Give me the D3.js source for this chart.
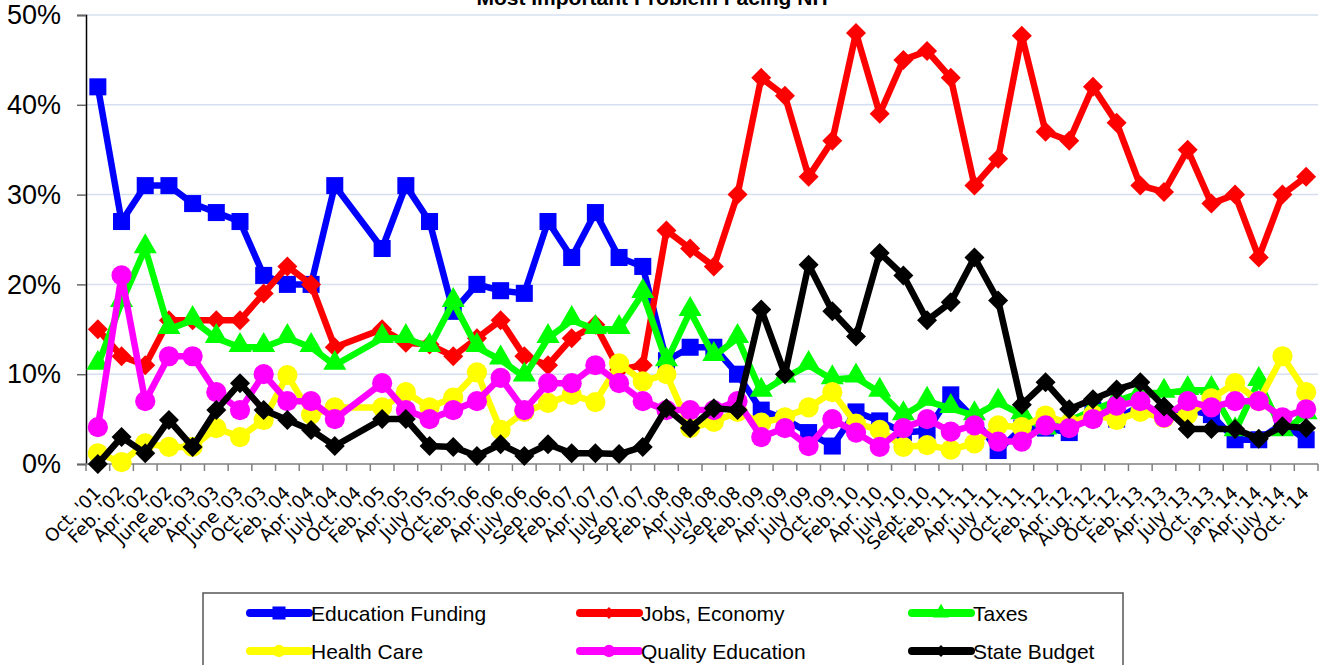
<!DOCTYPE html>
<html>
<head>
<meta charset="utf-8">
<script src="https://cdn.jsdelivr.net/npm/d3@7"></script>
<style>
  body { margin: 0; background: #fff; }
  text { font-family: "Liberation Sans", Arial, sans-serif; }
</style>
</head>
<body>
<svg id="svg" width="1323" height="665"></svg>
<script>
// DATA
var labels = ["Oct. '01","Feb. '02","Apr. '02","June '02","Feb. '03","Apr. '03","June '03","Oct. '03",
  "Feb. '04","Apr. '04","July '04","Oct. '04","Feb. '05","Apr. '05","July '05","Oct. '05",
  "Feb. '06","Apr. '06","July '06","Sep. '06","Feb. '07","Apr. '07","July '07","Sep. '07",
  "Feb. '08","Apr '08","July '08","Sep. '08","Feb. '09","Apr. '09","July '09","Oct. '09",
  "Feb. '10","Apr. '10","July '10","Sept. '10","Feb. '11","Apr. '11","July '11","Oct. '11",
  "Feb. '12","Apr. '12","Aug. '12","Oct. '12","Feb. '13","Apr. '13","July '13","Oct. '13",
  "Jan. '14","Apr. '14","July '14","Oct. '14"];

var educationFunding = [42,27,31,31,29,28,27,21,20,20,31,null,24,31,27,17,20,19.3,19,27,23,28,23,22,
  11.5,13,13,10,6,5,3.5,2,5.8,4.8,3.5,3.7,7.7,5,1.5,4,4,3.5,6,5,6.5,5.5,6,5.5,2.7,2.7,4.5,2.7];
var jobsEconomy = [15,12,11,16,16,16,16,19,22,20,13,null,15,13.5,13.3,12,14,16,12,11,14,15.5,10.5,11,
  26,24,22,30,43,41,32,36,48,39,45,46,43,31,34,47.7,37,36,42,38,31,30.3,35,29,30,23,30,32];
var taxes = [11,18,24,15,16,14,13,13,14,13,11,null,14,14,13,18,13,11.6,9.7,14,16,15,15,19,
  11.4,17,12,14,8,9.6,11,9.4,9.6,8,5.4,7,6.2,5.4,6.8,5.5,3.8,4.8,6,7,7.9,7.9,8.2,8.2,3.6,9.2,3.6,5.5];
var healthCare = [1.2,0.2,2.3,1.9,1.9,4,3,4.9,9.9,5.5,6.3,null,6.3,8,6.3,7.4,10.2,3.8,5.8,6.8,7.7,6.9,11.2,9.2,
  10,4,4.7,5.8,4.6,5.2,6.3,8,4.5,3.8,1.9,2.1,1.6,2.3,4.3,4.1,5.4,4.5,5.5,4.9,5.8,5.1,5.5,7.3,9,7,12,8];
var qualityEducation = [4.1,21,7,12,12,8,6,10,7,7,5,null,9,6,5,6,7,9.6,6,9,9,11,9,7,
  6,6,6,7,3,4,2,5,3.5,1.9,4,5,3.6,4.3,2.5,2.5,4.3,4,5,6.5,7,5.2,7,6.3,7,7,5.2,6.1];
var stateBudget = [0,3,1.2,4.9,1.9,6,9,6,4.9,3.8,2,null,5,5,2,1.9,0.9,2.2,0.9,2.2,1.2,1.2,1.1,1.9,
  6.2,4,6.2,6,17.2,10,22.2,17,14.2,23.5,21,16,18,23,18.2,6.6,9.1,6.1,7.2,8.3,9.1,6.4,3.9,3.9,3.9,2.8,4.2,4];

var yTicks = [0, 10, 20, 30, 40, 50];

var series = [
  { name: "Education Funding", values: educationFunding, color: "#0000ff", shape: "square" },
  { name: "Jobs, Economy", values: jobsEconomy, color: "#ff0000", shape: "diamond" },
  { name: "Taxes", values: taxes, color: "#00ff00", shape: "triangle" },
  { name: "Health Care", values: healthCare, color: "#ffff00", shape: "circle" },
  { name: "Quality Education", values: qualityEducation, color: "#ff00ff", shape: "circle" },
  { name: "State Budget", values: stateBudget, color: "#000000", shape: "diamond" }
];

// SETUP
var svg = d3.select("#svg"),
  margin = { top: 15, right: 5, bottom: 201, left: 86 },
  width = 1232,
  height = 449;

var x = d3.scaleBand().domain(labels).range([0, width]).padding(0),
  y = d3.scaleLinear().domain([0, 50]).range([height, 0]);

var g = svg.append("g")
  .attr("transform", "translate(" + margin.left + "," + margin.top + ")");

// gridlines
g.append("g")
  .selectAll("line")
  .data(yTicks.slice(1))
  .enter().append("line")
  .attr("x1", 0).attr("x2", width)
  .attr("y1", function (d) { return y(d); })
  .attr("y2", function (d) { return y(d); })
  .attr("stroke", "#d6e0f0")
  .attr("stroke-width", 1.5);

// y axis
var yAxis = g.append("g")
  .call(d3.axisLeft(y).tickValues(yTicks).tickSize(9).tickPadding(16)
    .tickFormat(function (d) { return d + "%"; }));
yAxis.select(".domain").attr("stroke", "#000").attr("stroke-width", 1.5);
yAxis.selectAll(".tick line").attr("stroke", "#666").attr("stroke-width", 1.5);
yAxis.selectAll("text")
  .attr("font-size", 27)
  .attr("fill", "#000")
  .style("font-family", "'Liberation Sans', Arial, sans-serif");

// x axis (ticks on category boundaries)
var xg = g.append("g").attr("transform", "translate(0," + height + ")");
xg.append("line")
  .attr("x1", 0).attr("x2", width)
  .attr("stroke", "#808080").attr("stroke-width", 1.5);
xg.selectAll(".xt")
  .data(labels.concat(["end"]))
  .enter().append("line")
  .attr("class", "xt")
  .attr("x1", function (d, i) { return i * x.bandwidth(); })
  .attr("x2", function (d, i) { return i * x.bandwidth(); })
  .attr("y1", 0).attr("y2", 7)
  .attr("stroke", "#808080").attr("stroke-width", 1.5);
xg.selectAll(".xl")
  .data(labels)
  .enter().append("text")
  .attr("class", "xl")
  .attr("text-anchor", "end")
  .attr("transform", function (d) {
    return "translate(" + (x(d) + x.bandwidth() / 2 + 4) + ",30) rotate(-45)";
  })
  .attr("font-size", 18)
  .style("font-family", "'DejaVu Sans', sans-serif")
  .text(function (d) { return d; });

// title (cut by the top edge, as in the source)
svg.append("text")
  .attr("x", 652)
  .attr("y", 5)
  .attr("text-anchor", "middle")
  .attr("font-size", 21)
  .attr("font-weight", "bold")
  .text("Most Important Problem Facing NH");

function marker(shape) {
  if (shape == "square") return d3.symbol().type(d3.symbolSquare).size(290)();
  if (shape == "diamond") return d3.symbol().type(d3.symbolSquare).size(200)();
  if (shape == "triangle") return d3.symbol().type(d3.symbolTriangle).size(230)();
  return d3.symbol().type(d3.symbolCircle).size(320)();
}

var line = d3.line()
  .x(function (d) { return x(d.label) + x.bandwidth() / 2; })
  .y(function (d) { return y(d.value); });

series.forEach(function (s) {
  var pts = labels.map(function (l, i) { return { label: l, value: s.values[i] }; })
    .filter(function (d) { return d.value != null; });

  g.append("path")
    .datum(pts)
    .attr("fill", "none")
    .attr("stroke", s.color)
    .attr("stroke-width", 6.5)
    .attr("stroke-linejoin", "round")
    .attr("d", line);

  g.selectAll(null)
    .data(pts)
    .enter().append("path")
    .attr("d", marker(s.shape))
    .attr("fill", s.color)
    .attr("transform", function (d) {
      var t = "translate(" + (x(d.label) + x.bandwidth() / 2) + "," + y(d.value) + ")";
      if (s.shape == "diamond") t += " rotate(45)";
      if (s.shape == "triangle") t += " translate(0,-2)";
      return t;
    });
});

// legend
var legend = svg.append("g").attr("transform", "translate(203,593)");
legend.append("rect")
  .attr("width", 920).attr("height", 90)
  .attr("fill", "#fff")
  .attr("stroke", "#555").attr("stroke-width", 1.5);

var cols = [47, 377, 709], rows = [20, 58];
var item = legend.selectAll(".item")
  .data(series)
  .enter().append("g")
  .attr("class", "item")
  .attr("transform", function (d, i) { return "translate(" + cols[i % 3] + "," + rows[Math.floor(i / 3)] + ")"; });

item.append("line")
  .attr("x1", 0).attr("x2", 59)
  .attr("stroke", function (d) { return d.color; })
  .attr("stroke-width", 8)
  .attr("stroke-linecap", "round");
item.append("path")
  .attr("d", function (d) {
    if (d.shape == "square") return d3.symbol().type(d3.symbolSquare).size(170)();
    if (d.shape == "triangle") return d3.symbol().type(d3.symbolTriangle).size(110)();
    if (d.shape == "diamond") return d3.symbol().type(d3.symbolSquare).size(70)();
    return d3.symbol().type(d3.symbolCircle).size(120)();
  })
  .attr("fill", function (d) { return d.color; })
  .attr("transform", function (d) { return "translate(29,0)" + (d.shape == "diamond" ? " rotate(45)" : ""); });
item.append("text")
  .attr("x", 61)
  .attr("dy", "0.36em")
  .attr("font-size", 21)
  .text(function (d) { return d.name; });
</script>
</body>
</html>
